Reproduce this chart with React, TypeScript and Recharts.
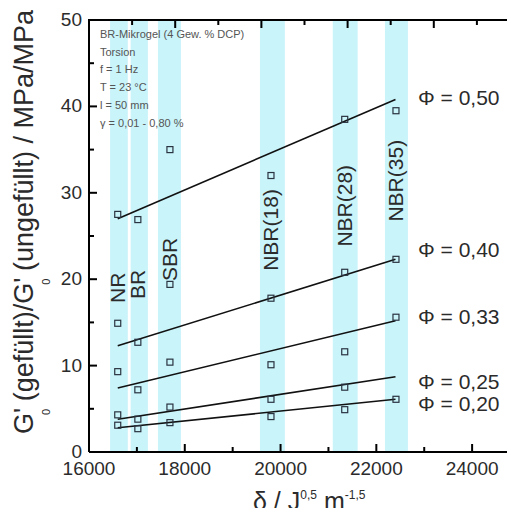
import React from 'react';
import { ReferenceArea, ReferenceDot, Scatter, ScatterChart, XAxis, YAxis } from 'recharts';

// blend systems (x position = solubility parameter of the matrix)
const materials = ['NR', 'BR', 'SBR', 'NBR(18)', 'NBR(28)', 'NBR(35)'];
const delta = [16600, 17020, 17690, 19800, 21340, 22410];
const bandFrom = [16440, 16870, 17440, 19570, 21090, 22180];
const bandTo = [16810, 17230, 17920, 20090, 21610, 22660];

// G'0 ratio per filler fraction
const phi050 = [27.5, 26.9, 35.0, 32.0, 38.5, 39.5];
const phi040 = [14.9, 12.7, 19.4, 17.8, 20.8, 22.3];
const phi033 = [9.3, 7.2, 10.4, 10.1, 11.6, 15.6];
const phi025 = [4.3, 3.8, 5.2, 6.1, 7.5, null];
const phi020 = [3.1, 2.7, 3.4, 4.1, 4.9, 6.1];

// regression lines (start / end)
const fitX = [16600, 22400];
const fit050 = [27.0, 40.8];
const fit040 = [12.3, 22.3];
const fit033 = [7.4, 15.2];
const fit025 = [3.8, 8.7];
const fit020 = [2.8, 6.1];

const phiNames = ['Φ = 0,50', 'Φ = 0,40', 'Φ = 0,33', 'Φ = 0,25', 'Φ = 0,20'];
const infoLines = [
  'BR-Mikrogel (4 Gew. % DCP)',
  'Torsion',
  'f = 1 Hz',
  'T = 23 °C',
  'l = 50 mm',
  'γ = 0,01 - 0,80 %',
];

const X_MIN = 16000;
const X_MAX = 25000;
const Y_MAX = 50;
const xTicks = [16000, 17000, 18000, 19000, 20000, 21000, 22000, 23000, 24000, 25000];
const yTicks = [0, 5, 10, 15, 20, 25, 30, 35, 40, 45, 50];
// the mirrored top axis of the original has its own (unlabelled) 10-step division
const topTicks = [1, 2, 3, 4, 5, 6, 7, 8, 9, 10];

// annotation placement (layout only)
const materialLabelY = [19.0, 19.4, 22.3, 25.7, 28.5, 31.4];
const phiLabelX = 22870;
const phiLabelY = [41.0, 23.4, 15.7, 8.2, 5.6];
const infoX = 16230;
const infoY = [48.4, 46.3, 44.3, 42.2, 40.2, 38.1];

const CHART_W = 540;
const CHART_H = 516;
const LEFT_W = 89;
const TOP_M = 20;
const RIGHT_M = 20;
const BOTTOM_H = 64;
const PLOT_W = CHART_W - LEFT_W - RIGHT_M;
const PLOT_H = CHART_H - TOP_M - BOTTOM_H;

const FONT = '"Liberation Sans", Arial, Helvetica, sans-serif';
const INK = '#2b2b2b';
const BAND = '#c9f4fa';

const toPoints = (ys: (number | null)[], xs: number[]) =>
  xs.map((x, i) => ({ x, y: ys[i] })).filter((p) => p.y !== null);

const pointSeries = [phi050, phi040, phi033, phi025, phi020].map((s) => toPoints(s, delta));
const fitSeries = [fit050, fit040, fit033, fit025, fit020].map((s) => toPoints(s, fitX));

const Square = (p: any) => (
  <rect x={p.cx - 3} y={p.cy - 3} width={6} height={6} fill="none" stroke="#2a3340" strokeWidth={1.2} />
);

const NoShape = () => <g />;

const BottomTick = (p: any) => {
  const major = p.payload.value % 2000 === 0;
  const axisY = p.y - 10;
  return (
    <g>
      <line x1={p.x} x2={p.x} y1={axisY} y2={axisY - (major ? 8 : 5)} stroke="#000" strokeWidth={2} />
      {major && (
        <text x={p.x} y={axisY + 23} textAnchor="middle" fontSize={19} fill={INK} fontFamily={FONT}>
          {p.payload.value}
        </text>
      )}
    </g>
  );
};

const LeftTick = (p: any) => {
  const major = p.payload.value % 10 === 0;
  const axisX = p.x + 7;
  return (
    <g>
      <line x1={axisX} x2={axisX + (major ? 8 : 5)} y1={p.y} y2={p.y} stroke="#000" strokeWidth={2} />
      {major && (
        <text x={p.x} y={p.y + 6} textAnchor="end" fontSize={19} fill={INK} fontFamily={FONT}>
          {p.payload.value}
        </text>
      )}
    </g>
  );
};

// top and right border with inward ticks, laid over the chart box
const FrameRest = () => {
  const left = LEFT_W;
  const top = TOP_M;
  const right = left + PLOT_W;
  const bottom = top + PLOT_H;
  const step = PLOT_W / topTicks.length;
  return (
    <svg
      width={CHART_W}
      height={CHART_H}
      style={{ position: 'absolute', left: 0, top: 0, pointerEvents: 'none' }}
    >
      <g stroke="#000" strokeWidth={2}>
        <line x1={left - 1} x2={right + 1} y1={top} y2={top} />
        <line x1={right} x2={right} y1={top} y2={bottom} />
        {topTicks.map((k) => (
          <line key={'t' + k} x1={left + k * step} x2={left + k * step} y1={top} y2={top + (k % 2 === 0 ? 8 : 5)} />
        ))}
        {yTicks.map((v) => {
          const y = bottom - (v / Y_MAX) * PLOT_H;
          return <line key={'r' + v} x1={right} x2={right - (v % 10 === 0 ? 8 : 5)} y1={y} y2={y} />;
        })}
      </g>
    </svg>
  );
};

const YTitle = () => (
  <text transform="translate(33,222) rotate(-90)" textAnchor="middle" fontSize={27} fill={INK} fontFamily={FONT}>
    G'
    <tspan dx={-7} dy={17} fontSize={11}>0</tspan>
    <tspan dy={-17}> (gefüllt)/G'</tspan>
    <tspan dx={-7} dy={17} fontSize={11}>0</tspan>
    <tspan dy={-17}> (ungefüllt) / MPa/MPa</tspan>
  </text>
);

const XTitle = () => (
  <text x={253} y={510} fontSize={25} fill={INK} fontFamily={FONT}>
    δ / J
    <tspan dy={-11} fontSize={12}>0,5</tspan>
    <tspan dy={11}> m</tspan>
    <tspan dy={-11} fontSize={12}>-1,5</tspan>
  </text>
);

const rotatedText = (txt: string) => (p: any) => (
  <text
    x={p.cx}
    y={p.cy}
    transform={`rotate(-90 ${p.cx} ${p.cy})`}
    textAnchor="middle"
    dominantBaseline="central"
    fontSize={21}
    fill={INK}
    fontFamily={FONT}
  >
    {txt}
  </text>
);

const plainText = (txt: string, size: number, color: string) => (p: any) => (
  <text x={p.cx} y={p.cy} dominantBaseline="central" fontSize={size} fill={color} fontFamily={FONT}>
    {txt}
  </text>
);

const frame = { stroke: '#000', strokeWidth: 2 };

export default function App() {
  return (
    <div style={{ margin: -8, width: 515, height: 516, overflow: 'hidden', background: '#fff', position: 'relative' }}>
      <ScatterChart width={CHART_W} height={CHART_H} margin={{ top: TOP_M, right: RIGHT_M, bottom: 0, left: 0 }}>
        <XAxis
          type="number"
          dataKey="x"
          domain={[X_MIN, X_MAX]}
          ticks={xTicks}
          interval={0}
          height={BOTTOM_H}
          tickSize={0}
          tickMargin={10}
          tickLine={false}
          tick={<BottomTick />}
          axisLine={frame}
          label={{ content: () => <XTitle /> }}
        />
        <YAxis
          type="number"
          dataKey="y"
          domain={[0, Y_MAX]}
          ticks={yTicks}
          interval={0}
          width={LEFT_W}
          tickSize={0}
          tickMargin={7}
          tickLine={false}
          tick={<LeftTick />}
          axisLine={frame}
          label={{ content: () => <YTitle /> }}
        />

        {materials.map((m, i) => (
          <ReferenceArea key={'band' + m} x1={bandFrom[i]} x2={bandTo[i]} fill={BAND} fillOpacity={1} stroke="none" />
        ))}

        {infoLines.map((t, i) => (
          <ReferenceDot key={'info' + i} x={infoX} y={infoY[i]} r={0} ifOverflow="visible" shape={plainText(t, 11, '#555')} />
        ))}

        {materials.map((m, i) => (
          <ReferenceDot
            key={'lab' + m}
            x={delta[i]}
            y={materialLabelY[i]}
            r={0}
            ifOverflow="visible"
            shape={rotatedText(m)}
          />
        ))}

        {phiNames.map((t, i) => (
          <ReferenceDot key={'phi' + i} x={phiLabelX} y={phiLabelY[i]} r={0} ifOverflow="visible" shape={plainText(t, 21, INK)} />
        ))}

        {fitSeries.map((d, i) => (
          <Scatter
            key={'fit' + i}
            data={d}
            line={{ stroke: '#111', strokeWidth: 1.6 }}
            shape={<NoShape />}
            isAnimationActive={false}
          />
        ))}
        {pointSeries.map((d, i) => (
          <Scatter key={'pts' + i} data={d} shape={<Square />} isAnimationActive={false} />
        ))}
      </ScatterChart>
      <FrameRest />
    </div>
  );
}
